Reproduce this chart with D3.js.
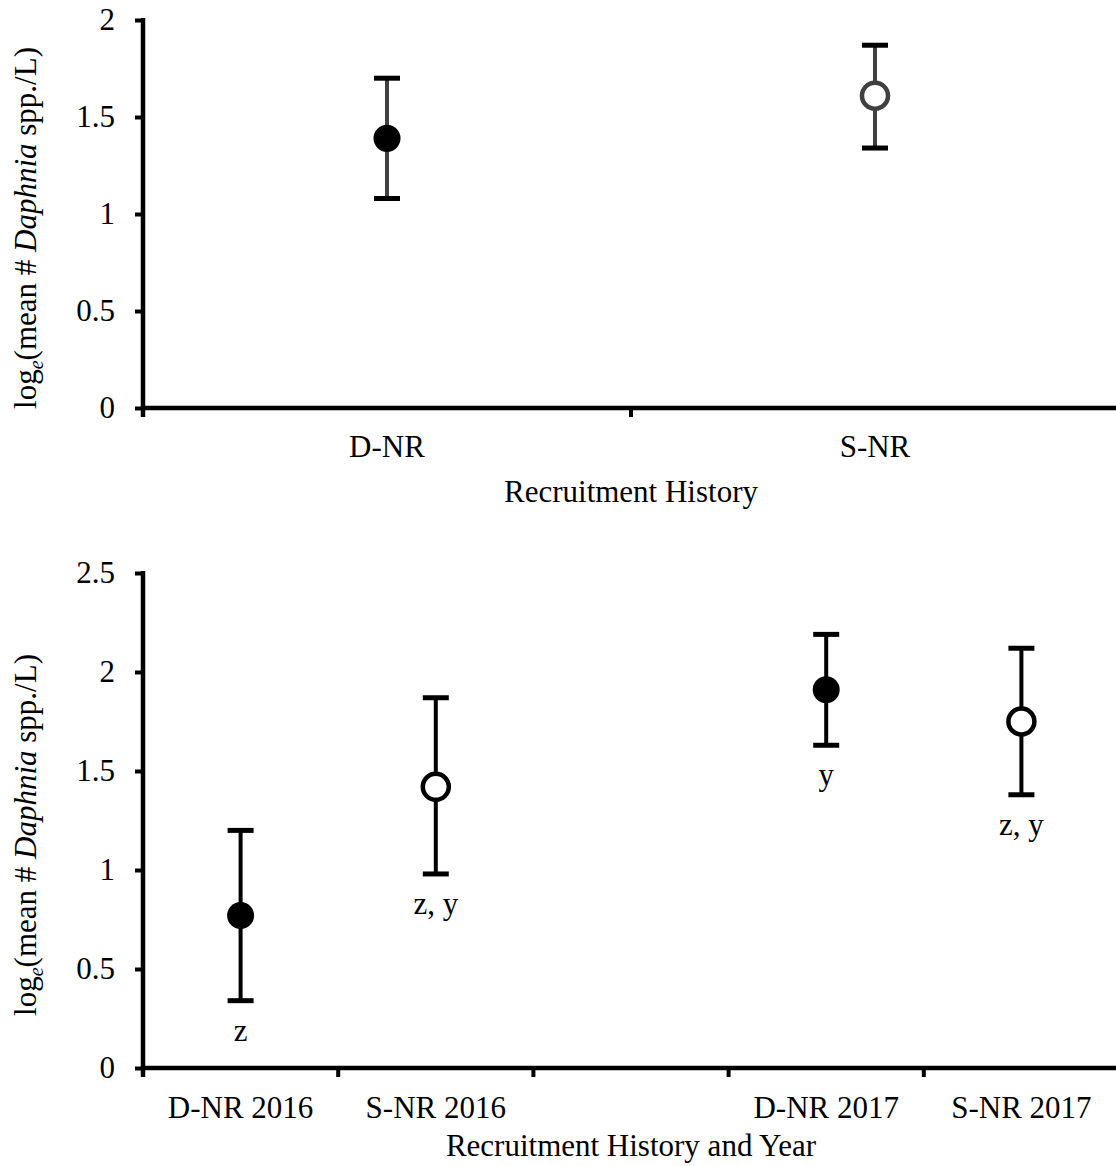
<!DOCTYPE html>
<html>
<head>
<meta charset="utf-8">
<script src="https://cdn.jsdelivr.net/npm/d3@7"></script>
<style>
  body { margin: 0; background: #ffffff; }
  text { font-family: "Liberation Serif", "Times New Roman", serif; fill: #000000; }
</style>
</head>
<body>
<svg id="canvas" width="1116" height="1166"></svg>
<script>
// top panel: recruitment history
var topCategories = ['D-NR', 'S-NR'];
var topMeans = [1.39, 1.61];
var topUpper = [1.70, 1.87];
var topLower = [1.08, 1.34];
var topFilled = [true, false];
var topTicks = [0, 0.5, 1, 1.5, 2];

// bottom panel: recruitment history and year (middle slot is empty)
var bottomCategories = ['D-NR 2016', 'S-NR 2016', '', 'D-NR 2017', 'S-NR 2017'];
var bottomMeans = [0.77, 1.42, null, 1.91, 1.75];
var bottomUpper = [1.20, 1.87, null, 2.19, 2.12];
var bottomLower = [0.34, 0.98, null, 1.63, 1.38];
var bottomFilled = [true, false, null, true, false];
var bottomLetters = ['z', 'z, y', '', 'y', 'z, y'];
var bottomTicks = [0, 0.5, 1, 1.5, 2, 2.5];

function drawPanel(svg, cfg) {
    var x = d3.scaleBand().domain(cfg.categories).range([143, 1119]);
    var y = d3.scaleLinear().domain([0, cfg.ymax]).range([cfg.bottom, cfg.top]);
    var g = svg.append('g');

    // y axis
    var yAxis = d3.axisLeft(y)
        .tickValues(cfg.ticks)
        .tickFormat(d3.format(''))
        .tickSize(8)
        .tickPadding(20);
    var ya = g.append('g')
        .attr('transform', 'translate(143,0)')
        .call(yAxis);
    ya.select('.domain').remove();
    ya.selectAll('.tick line').attr('stroke', '#000').attr('stroke-width', 4);
    ya.selectAll('.tick text').style('font-size', '31px').attr('fill', '#000');
    g.append('line')
        .attr('x1', 143).attr('x2', 143)
        .attr('y1', cfg.top - 2).attr('y2', cfg.bottom + 9)
        .attr('stroke', '#000').attr('stroke-width', 4.5);

    // x axis
    g.append('line')
        .attr('x1', 141).attr('x2', 1119)
        .attr('y1', cfg.bottom).attr('y2', cfg.bottom)
        .attr('stroke', '#000').attr('stroke-width', 4.5);
    g.selectAll('.xtick')
        .data(cfg.categories.slice(1))
        .enter().append('line')
        .attr('x1', function(d) { return x(d); })
        .attr('x2', function(d) { return x(d); })
        .attr('y1', cfg.bottom).attr('y2', cfg.bottom + 9)
        .attr('stroke', '#000').attr('stroke-width', 4);
    g.selectAll('.xlabel')
        .data(cfg.categories)
        .enter().append('text')
        .attr('x', function(d) { return x(d) + x.bandwidth() / 2; })
        .attr('y', cfg.bottom + cfg.labelOffset)
        .attr('text-anchor', 'middle')
        .style('font-size', '31px')
        .text(function(d) { return d; });

    g.append('text')
        .attr('x', 631)
        .attr('y', cfg.bottom + cfg.titleOffset)
        .attr('text-anchor', 'middle')
        .style('font-size', '31px')
        .text(cfg.xTitle);

    // y title
    var yt = g.append('text')
        .attr('transform', 'translate(36,' + cfg.yTitleCenter + ') rotate(-90)')
        .attr('text-anchor', 'middle')
        .style('font-size', '31px');
    yt.append('tspan').text('log');
    yt.append('tspan').attr('dy', 7).style('font-size', '20px').style('font-style', 'italic').text('e');
    yt.append('tspan').attr('dy', -7).text('(mean # ');
    yt.append('tspan').style('font-style', 'italic').text('Daphnia');
    yt.append('tspan').text(' spp./L)');

    // error bars and points
    var pts = cfg.categories.map(function(c, i) {
        return { cat: c, mean: cfg.means[i], hi: cfg.upper[i], lo: cfg.lower[i],
                 filled: cfg.filled[i], letter: cfg.letters ? cfg.letters[i] : '' };
    }).filter(function(d) { return d.mean !== null; });

    var cx = function(d) { return x(d.cat) + x.bandwidth() / 2; };

    var bars = g.selectAll('.pt').data(pts).enter().append('g');
    bars.append('line')
        .attr('x1', cx).attr('x2', cx)
        .attr('y1', function(d) { return y(d.hi); })
        .attr('y2', function(d) { return y(d.lo); })
        .attr('stroke', cfg.barColor).attr('stroke-width', 4);
    bars.append('line')
        .attr('x1', function(d) { return cx(d) - 13; })
        .attr('x2', function(d) { return cx(d) + 13; })
        .attr('y1', function(d) { return y(d.hi); })
        .attr('y2', function(d) { return y(d.hi); })
        .attr('stroke', '#000').attr('stroke-width', 5);
    bars.append('line')
        .attr('x1', function(d) { return cx(d) - 13; })
        .attr('x2', function(d) { return cx(d) + 13; })
        .attr('y1', function(d) { return y(d.lo); })
        .attr('y2', function(d) { return y(d.lo); })
        .attr('stroke', '#000').attr('stroke-width', 5);
    bars.append('circle')
        .attr('cx', cx)
        .attr('cy', function(d) { return y(d.mean); })
        .attr('r', function(d) { return d.filled ? 13.5 : 13; })
        .attr('fill', function(d) { return d.filled ? '#000' : '#fff'; })
        .attr('stroke', function(d) { return d.filled ? 'none' : cfg.barColor; })
        .attr('stroke-width', 4.5);
    bars.append('text')
        .attr('x', cx)
        .attr('y', function(d) { return y(d.lo) + 40; })
        .attr('text-anchor', 'middle')
        .style('font-size', '31px')
        .text(function(d) { return d.letter; });
}

(function() {
    var svg = d3.select('#canvas');
    drawPanel(svg, {
        categories: topCategories, means: topMeans, upper: topUpper, lower: topLower,
        filled: topFilled, ticks: topTicks, ymax: 2,
        top: 20, bottom: 408, labelOffset: 49, titleOffset: 94,
        xTitle: 'Recruitment History', yTitleCenter: 228, barColor: '#404040'
    });
    drawPanel(svg, {
        categories: bottomCategories, means: bottomMeans, upper: bottomUpper, lower: bottomLower,
        filled: bottomFilled, letters: bottomLetters, ticks: bottomTicks, ymax: 2.5,
        top: 573, bottom: 1068, labelOffset: 50, titleOffset: 88,
        xTitle: 'Recruitment History and Year', yTitleCenter: 835, barColor: '#000'
    });
})();
</script>
</body>
</html>
